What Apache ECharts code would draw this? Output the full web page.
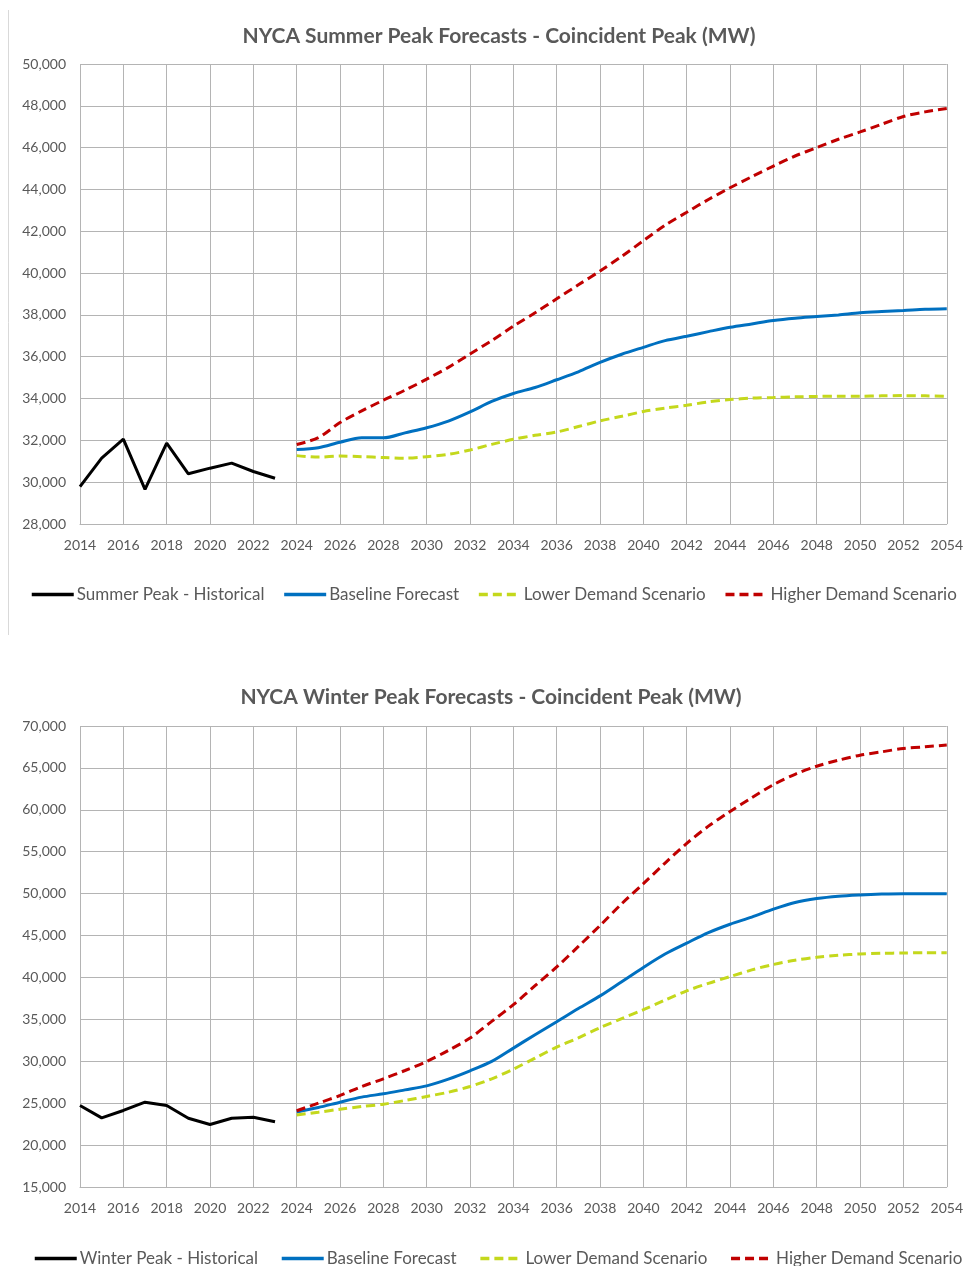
<!DOCTYPE html>
<html>
<head>
<meta charset="utf-8">
<script src="https://cdn.jsdelivr.net/npm/echarts@6/dist/echarts.min.js"></script>
<style>
html,body{margin:0;padding:0;background:#fff;}
#c{width:966px;height:1266px;}
</style>
</head>
<body>
<div id="c"></div>
<script>
// ---- DATA ----
const histYears = [2014,2015,2016,2017,2018,2019,2020,2021,2022,2023];
const fcstYears = [2024,2025,2026,2027,2028,2029,2030,2031,2032,2033,2034,2035,2036,2037,2038,2039,2040,2041,2042,2043,2044,2045,2046,2047,2048,2049,2050,2051,2052,2053,2054];

const summerHistorical = [29790,31150,32060,29660,31870,30400,30670,30910,30510,30190];
const summerBaseline = [31560,31650,31910,32120,32120,32360,32600,32920,33360,33860,34240,34530,34900,35280,35730,36120,36450,36770,36980,37200,37410,37570,37730,37840,37920,38000,38100,38160,38210,38270,38300];
const summerLower = [31270,31200,31250,31220,31180,31150,31220,31330,31540,31810,32050,32240,32400,32660,32930,33150,33380,33540,33680,33840,33950,34020,34050,34080,34100,34110,34110,34130,34140,34130,34110];
const summerHigher = [31800,32130,32850,33410,33920,34400,34930,35490,36130,36770,37460,38100,38770,39440,40100,40800,41550,42290,42910,43520,44080,44610,45120,45600,46000,46400,46750,47120,47490,47710,47870];

const winterHistorical = [24720,23250,24130,25120,24720,23210,22460,23210,23330,22780];
const winterBaseline = [23950,24480,25120,25720,26120,26590,27070,27870,28860,29980,31570,33170,34720,36300,37800,39500,41200,42800,44100,45350,46350,47200,48150,48950,49420,49700,49850,49950,50000,50000,50000];
const winterLower = [23600,23920,24280,24600,24880,25320,25800,26310,26990,27910,29060,30380,31690,32800,34000,35100,36150,37300,38400,39300,40100,40900,41550,42050,42400,42640,42800,42880,42920,42960,42960];
const winterHigher = [24100,25000,25920,26990,27910,28900,29980,31290,32770,34760,36750,39020,41250,43700,46200,48800,51200,53650,56000,58050,59800,61450,63000,64240,65200,65920,66520,66920,67320,67520,67720];

const summerTitle = 'NYCA Summer Peak Forecasts - Coincident Peak (MW)';
const winterTitle = 'NYCA Winter Peak Forecasts - Coincident Peak (MW)';
const summerNames = ['Summer Peak - Historical','Baseline Forecast','Lower Demand Scenario','Higher Demand Scenario'];
const winterNames = ['Winter Peak - Historical','Baseline Forecast','Lower Demand Scenario','Higher Demand Scenario'];

// ---- BUILD ----
const pair = (xs, ys) => xs.map((x, i) => [x, ys[i]]);
const FONT = 'Lato, "Open Sans", sans-serif';
const TXT = '#595959';
const GRID = '#b4b4b4';
const colors = ['#000000', '#0070C0', '#C4D81C', '#C00000'];
const dash = [9, 5];

function xAxis(gi) {
  return {
    type: 'value', gridIndex: gi, min: 2014, max: 2054, interval: 2,
    axisLine: { show: true, lineStyle: { color: GRID, width: 1 } },
    axisTick: { show: false },
    splitLine: { show: true, lineStyle: { color: GRID, width: 1 } },
    axisLabel: { color: TXT, fontFamily: FONT, fontSize: 14, margin: 14, formatter: v => String(v) }
  };
}
function yAxis(gi, min, max, interval) {
  return {
    type: 'value', gridIndex: gi, min: min, max: max, interval: interval,
    axisLine: { show: false }, axisTick: { show: false },
    splitLine: { show: true, lineStyle: { color: GRID, width: 1 } },
    axisLabel: { color: TXT, fontFamily: FONT, fontSize: 14, margin: 14 }
  };
}
function mkSeries(gi, names, hist, base, low, high) {
  const common = { xAxisIndex: gi, yAxisIndex: gi, symbol: 'none', animation: false };
  return [
    Object.assign({ type: 'line', name: names[0], data: pair(histYears, hist), color: colors[0],
      lineStyle: { color: colors[0], width: 3 } }, common),
    Object.assign({ type: 'line', name: names[1], data: pair(fcstYears, base), color: colors[1], smooth: 0.3,
      lineStyle: { color: colors[1], width: 3 } }, common),
    Object.assign({ type: 'line', name: names[2], data: pair(fcstYears, low), color: colors[2], smooth: 0.3,
      lineStyle: { color: colors[2], width: 3, type: dash } }, common),
    Object.assign({ type: 'line', name: names[3], data: pair(fcstYears, high), color: colors[3], smooth: 0.3,
      lineStyle: { color: colors[3], width: 3, type: dash } }, common)
  ];
}
function legend(names, left, top, gap) {
  return {
    data: names, left: left, top: top, width: 950, padding: 0,
    itemWidth: 42, itemHeight: 14, itemGap: gap,
    selectedMode: false,
    itemStyle: { opacity: 0 },
    lineStyle: { width: 3.5 },
    textStyle: { color: TXT, fontFamily: FONT, fontSize: 17, padding: [0, 0, 0, -2] }
  };
}

const chart = echarts.init(document.getElementById('c'), null, { renderer: 'canvas' });
chart.setOption({
  backgroundColor: '#ffffff',
  animation: false,
  title: [
    { text: summerTitle, left: 494, top: 21, textAlign: 'center',
      textStyle: { color: TXT, fontFamily: FONT, fontWeight: 'bold', fontSize: 21 } },
    { text: winterTitle, left: 486, top: 682, textAlign: 'center',
      textStyle: { color: TXT, fontFamily: FONT, fontWeight: 'bold', fontSize: 21 } }
  ],
  legend: [
    legend(summerNames, 30, 586, 18),
    legend(winterNames, 33, 1250, 22)
  ],
  grid: [
    { left: 80, right: 19, top: 64, height: 460 },
    { left: 80, right: 19, top: 726, height: 461 }
  ],
  xAxis: [xAxis(0), xAxis(1)],
  yAxis: [yAxis(0, 28000, 50000, 2000), yAxis(1, 15000, 70000, 5000)],
  series: mkSeries(0, summerNames, summerHistorical, summerBaseline, summerLower, summerHigher)
    .concat(mkSeries(1, winterNames, winterHistorical, winterBaseline, winterLower, winterHigher)),
  graphic: [
    { type: 'line', shape: { x1: 8.5, y1: 10, x2: 8.5, y2: 635 }, style: { stroke: '#d9d9d9', lineWidth: 1 }, silent: true }
  ]
});
</script>
</body>
</html>
